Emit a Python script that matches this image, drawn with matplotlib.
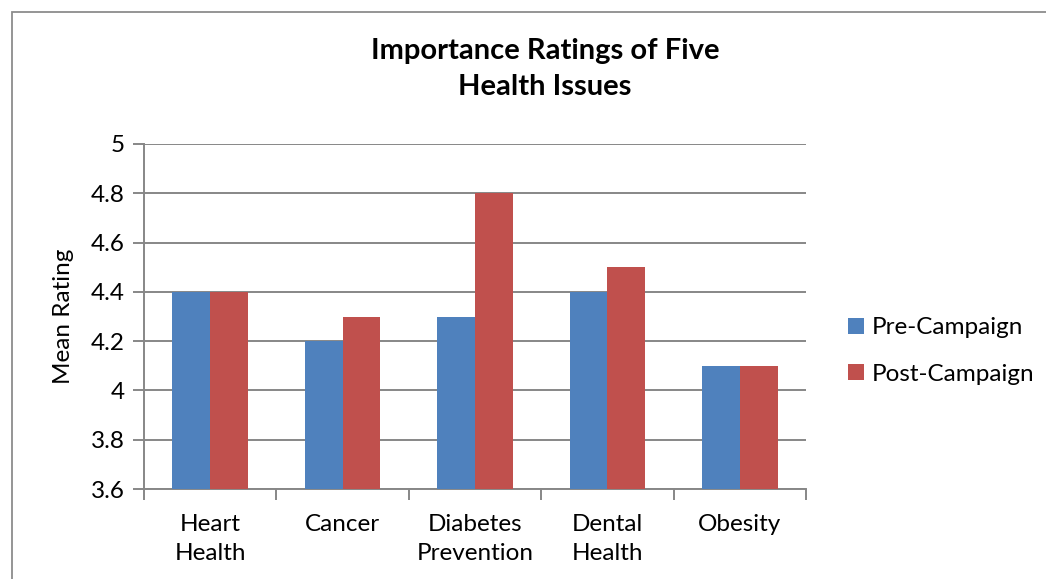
import matplotlib
matplotlib.use("Agg")
import matplotlib.pyplot as plt
from matplotlib.patches import Rectangle
import numpy as np

categories = ["Heart\nHealth", "Cancer", "Diabetes\nPrevention", "Dental\nHealth", "Obesity"]
pre_campaign = [4.4, 4.2, 4.3, 4.4, 4.1]
post_campaign = [4.4, 4.3, 4.8, 4.5, 4.1]
series_names = ["Pre-Campaign", "Post-Campaign"]
y_ticks = [3.6, 3.8, 4.0, 4.2, 4.4, 4.6, 4.8, 5.0]
y_tick_labels = ["3.6", "3.8", "4", "4.2", "4.4", "4.6", "4.8", "5"]

plt.rcParams["font.family"] = ["Lato", "DejaVu Sans"]

W, H = 1046, 579
fig = plt.figure(figsize=(W / 100, H / 100), dpi=100)

# chart-area frame (extends past right and bottom edges)
fig.patches.append(Rectangle((12 / W, -0.05), 1.2, 1 - 12 / H + 0.05,
                             transform=fig.transFigure, fill=False,
                             edgecolor="#8c8c8c", linewidth=1.3))

ax = fig.add_axes([144 / W, 1 - 489 / H, (806 - 144) / W, (489 - 144) / H])

grey = "#878787"
blue = "#4F81BD"
red = "#C0504D"
fs = 17.5

x = np.arange(len(categories))
bw = 1 / 3.5
ax.bar(x - bw / 2, pre_campaign, width=bw, color=blue, label=series_names[0], zorder=3)
ax.bar(x + bw / 2, post_campaign, width=bw, color=red, label=series_names[1], zorder=3)

ax.set_xlim(-0.5, len(categories) - 0.5)
ax.set_ylim(3.6, 5.0)
ax.set_yticks(y_ticks)
ax.set_yticklabels(y_tick_labels)
ax.yaxis.grid(True, color=grey, linewidth=1.4, zorder=0)
ax.set_axisbelow(True)

# category ticks sit between groups
ax.set_xticks(np.arange(len(categories) + 1) - 0.5, minor=False)
ax.set_xticklabels([])
ax.set_xticks(x, minor=True)
ax.set_xticklabels(categories, minor=True, fontsize=fs, linespacing=1.45)
ax.tick_params(axis="x", which="minor", length=0, pad=18)
ax.tick_params(axis="x", which="major", length=8, width=1.4, color=grey)
ax.tick_params(axis="y", length=8, width=1.4, color=grey, labelsize=fs, pad=6)

for side in ["top", "right"]:
    ax.spines[side].set_visible(False)
for side in ["left", "bottom"]:
    ax.spines[side].set_color(grey)
    ax.spines[side].set_linewidth(1.4)

ax.set_ylabel("Mean Rating", fontsize=fs, labelpad=12)

fig.text(545 / W, 1 - 69 / H, "Importance Ratings of Five\nHealth Issues",
         ha="center", va="center", fontsize=21, fontweight="bold", linespacing=1.45)

fig.legend(loc="center left", bbox_to_anchor=(838 / W, 1 - 351 / H), frameon=False,
           fontsize=fs, handlelength=0.65, handleheight=0.65, handletextpad=0.35,
           labelspacing=1.05, borderaxespad=0)

fig.savefig("out.png", dpi=100)
